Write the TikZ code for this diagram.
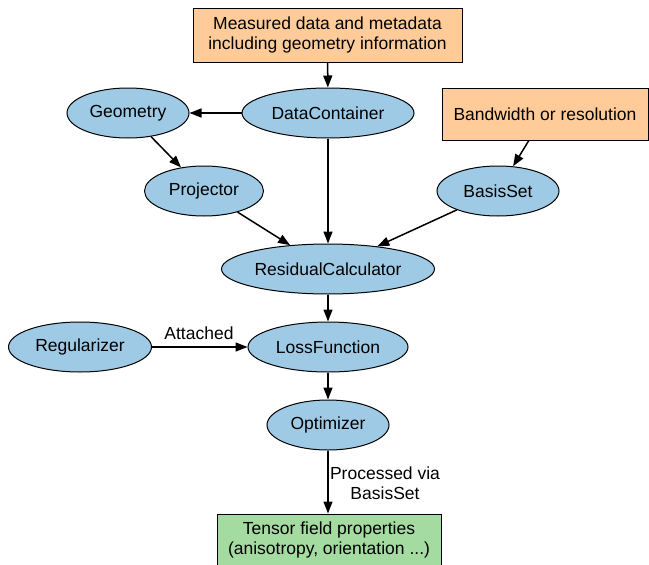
\documentclass[tikz,border=0pt]{standalone}
\usepackage{fontspec}
\setmainfont{Liberation Sans}
\usetikzlibrary{shapes.geometric,arrows.meta}
\definecolor{blueish}{HTML}{9ECAE5}
\definecolor{peach}{HTML}{FFCC99}
\definecolor{greenish}{HTML}{A3DBA0}
\begin{document}
\begin{tikzpicture}
    [x=1pt,y=-1pt,
    line width=1.5pt,
    font=\fontsize{17.5}{20}\selectfont,
    cls/.style = {ellipse, draw, line width=1pt, fill=blueish,
                  inner sep=0pt, minimum height=50pt},
    inbox/.style = {rectangle, draw, line width=1pt, fill=peach,
                    align=center, inner sep=0pt},
    outbox/.style = {rectangle, draw, line width=1pt, fill=greenish,
                     align=center, inner sep=0pt},
    arr/.style = {-{Triangle[length=12pt,width=9pt]}}]
    \useasboundingbox (0,0) rectangle (649,565);
    % inputs
    \node[inbox, minimum width=269pt, minimum height=54pt] (data) at (327.5,35)
        {Measured data and metadata\\including geometry information};
    \node[inbox, minimum width=206pt, minimum height=52pt] (bw) at (545,114)
        {Bandwidth or resolution};
    % classes
    \node[cls, minimum width=172pt] (dc) at (328,113) {DataContainer};
    \node[cls, minimum width=122pt] (geo) at (128,113) {Geometry};
    \node[cls, minimum width=119pt] (proj) at (204,191) {Projector};
    \node[cls, minimum width=122pt] (basis) at (498,191) {BasisSet};
    \node[cls, minimum width=213pt] (res) at (328,269) {ResidualCalculator};
    \node[cls, minimum width=143pt] (reg) at (80,347) {Regularizer};
    \node[cls, minimum width=160pt] (loss) at (328,347) {LossFunction};
    \node[cls, minimum width=122pt] (opt) at (328,425) {Optimizer};
    % output
    \node[outbox, minimum width=224pt, minimum height=52pt] (out) at (329,540)
        {Tensor field properties\\(anisotropy, orientation ...)};
    % edges
    \draw[arr] (data) -- (dc);
    \draw[arr] (dc) -- (geo);
    \draw[arr] (geo) -- (proj);
    \draw[arr] (bw) -- (basis);
    \draw[arr] (dc) -- (res);
    \draw[arr] (proj) -- (res);
    \draw[arr] (basis) -- (res);
    \draw[arr] (res) -- (loss);
    \draw[arr] (reg) -- (loss);
    \draw[arr] (loss) -- (opt);
    \draw[arr] (opt.south) -- (opt.south |- out.north);
    % labels
    \node (att) at (199,333) {Attached};
    \node[align=center] (via) at (385,483) {Processed via\\BasisSet};
\end{tikzpicture}
\end{document}
